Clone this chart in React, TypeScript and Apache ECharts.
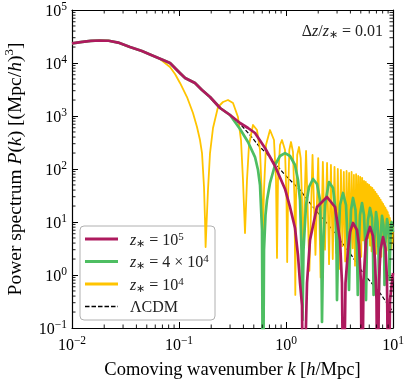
import React, { useEffect, useRef } from "react";
import * as echarts from "echarts";

// ---------- data (k in h/Mpc, P in (Mpc/h)^3) ----------
const commonK = [0.01, 0.0125, 0.015, 0.018, 0.022, 0.027, 0.0348, 0.045, 0.0536, 0.0709, 0.0824, 0.102, 0.114, 0.141, 0.164, 0.195, 0.242, 0.3];
const commonP = [23500, 25000, 26100, 26600, 26300, 24300, 20000, 16800, 14500, 11400, 10000, 6480, 5210, 4200, 3100, 2280, 1415, 1045];

const magentaK = [0.3717, 0.4415, 0.5133, 0.6363, 0.7893, 0.9787, 1.09, 1.214, 1.294, 1.352, 1.411, 1.45,
  1.572, 1.676, 1.949, 2.416, 2.87, 3.197, 3.336, 3.447,
  3.598, 3.797, 3.965, 4.229, 4.609, 4.811, 5.02, 5.132,
  5.301, 5.594, 6.095, 6.503, 6.789, 7.013, 7.164,
  7.4, 7.643, 8.064, 8.509, 8.788, 9.077, 9.376, 10];
const magentaP = [738, 594, 478, 249, 114, 42, 19.2, 7.7, 2.38, 0.707, 0.27, 0.001,
  0.707, 4.57, 19.2, 29.6, 19.2, 4.57, 0.707, 0.001,
  0.707, 2.96, 6.48, 9.58, 7.06, 3.68, 0.707, 0.001,
  0.805, 4.57, 8.05, 5.44, 1.92, 0.337, 0.001,
  0.805, 2.96, 5.21, 3.23, 0.805, 0.001, 0.337, 1.09];

const greenK = [0.3338, 0.3717, 0.4415, 0.5133, 0.5475, 0.5715, 0.5968, 0.6095, 0.6228, 0.6432, 0.6644, 0.7087, 0.7893, 0.8788, 0.9787, 1.09, 1.214, 1.294, 1.352, 1.396, 1.427,
  1.457, 1.538, 1.641, 1.788, 1.949, 2.078, 2.138, 2.17,
  2.218, 2.314, 2.523, 2.75, 2.901, 2.965, 2.997,
  3.062, 3.197, 3.41, 3.637, 3.797, 3.88,
  3.965, 4.051, 4.229, 4.462, 4.609, 4.688,
  4.811, 4.916, 5.132, 5.358, 5.534, 5.594,
  5.715, 5.84, 6.095, 6.363, 6.503, 6.587,
  6.716, 6.937, 7.164, 7.32, 7.4,
  7.56, 7.893, 8.151, 8.276, 8.329,
  8.509, 8.788, 9.077, 9.216, 9.275,
  9.436, 9.683, 10];
const greenP = [771, 569, 323, 168, 95.7, 49.9, 7.06, 0.001, 2.96, 13.5, 26, 54.4, 119, 176, 200, 176, 119, 62, 26, 2.96, 0.142,
  2.96, 20.9, 45.7, 64.8, 52.1, 26, 2.96, 0.13,
  2.96, 20.9, 56.8, 43.8, 16.8, 2.96, 0.337,
  2.96, 20.9, 35.3, 20.9, 2.96, 0.521,
  4.57, 16.8, 28.4, 16.8, 2.96, 0.419,
  4.57, 13.5, 22.8, 13.5, 2.96, 0.337,
  4.57, 10.9, 18.4, 11.9, 2.96, 0.419,
  4.57, 15.4, 10, 2.96, 0.521,
  3.68, 13, 8.77, 2.96, 0.647,
  4.57, 11.4, 7.7, 2.96, 0.805,
  4.57, 10, 6.48];

const yellowK = [0.0664, 0.0824, 0.0918, 0.1022, 0.1188, 0.1351, 0.1473, 0.1571, 0.1641, 0.1713, 0.175, 0.1773, 0.1807, 0.1866, 0.1949, 0.2079, 0.2315, 0.2577, 0.287, 0.3197, 0.3558, 0.3797, 0.3963, 0.4139,
  0.432, 0.451, 0.4915, 0.5358, 0.5715, 0.5968, 0.603, 0.6228, 0.6502, 0.7087, 0.7724, 0.8065, 0.824,
  0.8418, 0.8788, 0.9175, 0.9787, 1.011, 1.026, 1.044, 1.074, 1.114, 1.162, 1.2007, 1.222,
  1.24, 1.273, 1.323, 1.372, 1.411, 1.433,
  1.54, 1.655, 1.77, 1.885, 2.0, 2.105, 2.21, 2.315, 2.42, 2.525, 2.63, 2.735, 2.84, 2.945, 3.05, 3.155,
  3.26, 3.365, 3.47, 3.575, 3.68, 3.785, 3.89, 3.995, 4.1, 4.205, 4.31, 4.415, 4.52, 4.625, 4.73, 4.835,
  4.94, 5.045, 5.15, 5.255, 5.36, 5.465, 5.57, 5.675, 5.78, 5.885, 5.99, 6.095, 6.2, 6.305, 6.41, 6.515,
  6.62, 6.725, 6.83, 6.935, 7.04, 7.145, 7.25, 7.355, 7.46, 7.565, 7.67, 7.775, 7.88, 7.985, 8.09, 8.195,
  8.3, 8.405, 8.51, 8.615, 8.72, 8.825, 8.93, 9.035, 9.14, 9.245, 9.35, 9.455, 9.56, 9.665, 9.77, 9.875, 9.98];
const yellowP = [11900, 8410, 6200, 4200, 2280, 1140, 620, 352, 200, 45.7, 10.9, 3.37, 8.77, 40.2, 200, 594, 1479, 1837, 2005, 1760, 957, 352, 62, 6.2,
  62, 284, 677, 544, 228, 26, 2.38, 40.2, 284, 544, 352, 62, 2.1,
  62, 284, 352, 228, 26, 1.76, 26, 228, 323, 209, 26, 0.42,
  26, 184, 260, 161, 26, 1.92,
  219, 1.2, 184, 2.4, 161, 0.9, 136, 3.0, 130, 1.6, 119, 2.0, 109, 2.6, 100, 1.3,
  95.7, 3.5, 87.7, 1.8, 91.6, 4.2, 84, 2.5, 87.7, 3.2, 77, 1.5, 80, 4.0, 73.8, 3.0,
  70.6, 2.2, 67.6, 4.5, 59.4, 3.4, 56.8, 2.0, 52.1, 5.0, 49.9, 3.6, 45.7, 2.8, 43.8, 4.4,
  40.2, 3.9, 36.8, 2.5, 33.8, 5.2, 31.0, 3.8, 28.4, 4.6, 26.0, 2.2, 23.8, 4.8, 21.9, 5.5,
  20.0, 3.3, 18.4, 4.2, 16.8, 5.0, 15.4, 2.9, 13.5, 4.4, 11.9, 3.6, 10.4, 3.1, 9.2, 4.0, 8.05];

const lcdmK = [0.3717, 0.4609, 0.5475, 0.7087, 0.9787, 1.352, 1.788, 2.578, 3.965, 5.243, 7.56, 10];
const lcdmP = [706, 438, 284, 168, 77, 40.2, 19.2, 8.05, 2.6, 1.09, 0.457, 0.2];

// legend order (top to bottom)
const legendNames = ["z5", "z4x4", "z4", "LCDM"];
const legendLabels: Record<string, string> = {
  z5: "{i|z}{sub|\u2217}{t| = 10}{sup|5}",
  z4x4: "{i|z}{sub|\u2217}{t| = 4 \u00d7 10}{sup|4}",
  z4: "{i|z}{sub|\u2217}{t| = 10}{sup|4}",
  LCDM: "{t|\u039BCDM}",
};
const colors: Record<string, string> = { z5: "#AE1A5E", z4x4: "#4EBE62", z4: "#FFC400", LCDM: "#000000" };
const widths: Record<string, number> = { z5: 2.7, z4x4: 2.7, z4: 1.8, LCDM: 1.2 };

const xMinor = [0.02, 0.03, 0.04, 0.05, 0.06, 0.07, 0.08, 0.09, 0.2, 0.3, 0.4, 0.5, 0.6, 0.7, 0.8, 0.9, 2, 3, 4, 5, 6, 7, 8, 9];
const yMinor = [0.2, 0.3, 0.4, 0.5, 0.6, 0.7, 0.8, 0.9, 2, 3, 4, 5, 6, 7, 8, 9, 20, 30, 40, 50, 60, 70, 80, 90,
  200, 300, 400, 500, 600, 700, 800, 900, 2000, 3000, 4000, 5000, 6000, 7000, 8000, 9000,
  20000, 30000, 40000, 50000, 60000, 70000, 80000, 90000];

const FONT = "'Liberation Serif', 'Times New Roman', serif";

function pairs(k: number[], p: number[]) {
  return k.map((v, i) => [v, p[i]]);
}

function supLabel(v: number) {
  const e = Math.round(Math.log10(v));
  return `{b|10}{e|${e < 0 ? "\u2212" + -e : e}}`;
}

const tickRich = {
  b: { fontFamily: FONT, fontSize: 16, lineHeight: 20, color: "#000" },
  e: { fontFamily: FONT, fontSize: 11.5, lineHeight: 11, verticalAlign: "top", color: "#000" },
};

const legendRich = {
  t: { fontFamily: FONT, fontSize: 16, lineHeight: 18, fill: "#222" },
  i: { fontFamily: FONT, fontSize: 16, lineHeight: 18, fontStyle: "italic", fill: "#222" },
  sub: { fontFamily: FONT, fontSize: 11, lineHeight: 10, verticalAlign: "bottom", fill: "#222" },
  sup: { fontFamily: FONT, fontSize: 11, lineHeight: 10, verticalAlign: "top", fill: "#222" },
  g: { fontFamily: FONT, fontSize: 16, lineHeight: 18, fill: "#222" },
};

function tickSeries(vals: number[], axis: "x" | "y") {
  return {
    type: "custom",
    silent: true,
    clip: false,
    z: 10,
    data: vals.map((v) => (axis === "x" ? [v, 1] : [1, v])),
    renderItem: (params: any, api: any) => {
      const cs = params.coordSys;
      const pt = api.coord([api.value(0), api.value(1)]);
      const L = 3.5;
      const st = { stroke: "#000", lineWidth: 0.9 };
      if (axis === "x") {
        const x = pt[0];
        return {
          type: "group",
          children: [
            { type: "line", shape: { x1: x, y1: cs.y + cs.height, x2: x, y2: cs.y + cs.height - L }, style: st },
            { type: "line", shape: { x1: x, y1: cs.y, x2: x, y2: cs.y + L }, style: st },
          ],
        };
      }
      const y = pt[1];
      return {
        type: "group",
        children: [
          { type: "line", shape: { x1: cs.x, y1: y, x2: cs.x + L, y2: y }, style: st },
          { type: "line", shape: { x1: cs.x + cs.width, y1: y, x2: cs.x + cs.width - L, y2: y }, style: st },
        ],
      };
    },
  };
}

function legendGraphic() {
  const left = 80, top = 226, w = 135, h = 94;
  const rowY = [239, 261.5, 284, 306.5];
  const children: any[] = [
    {
      type: "rect",
      shape: { x: left, y: top, width: w, height: h, r: 4 },
      style: { fill: "rgba(255,255,255,0.8)", stroke: "#b0b0b0", lineWidth: 1 },
    },
  ];
  legendNames.forEach((n, i) => {
    children.push({
      type: "line",
      shape: { x1: 85, y1: rowY[i], x2: 118, y2: rowY[i] },
      style: {
        stroke: colors[n],
        lineWidth: n === "LCDM" ? 1.3 : 3,
        lineDash: n === "LCDM" ? [4.5, 2] : null,
      },
    });
    children.push({
      type: "text",
      x: 130,
      y: rowY[i],
      style: { text: legendLabels[n], rich: legendRich, verticalAlign: "middle", align: "left" },
    });
  });
  return { type: "group", z: 100, children };
}

export default function App() {
  const ref = useRef<HTMLDivElement>(null);
  useEffect(() => {
    const chart = echarts.init(ref.current!, undefined, { renderer: "svg" });
    const lineCommon = { type: "line", showSymbol: false, symbol: "none", clip: true, silent: true };
    const axisLine = { show: true, onZero: false, lineStyle: { color: "#000", width: 1.2 } };
    const axisTick = { show: true, inside: true, length: 6, lineStyle: { color: "#000", width: 1 } };
    const titleRichX = {
      t: { fontFamily: FONT, fontSize: 18.5, lineHeight: 24, color: "#000" },
      i: { fontFamily: FONT, fontSize: 18.5, lineHeight: 24, fontStyle: "italic", color: "#000" },
    };
    const titleRichY = {
      t: { fontFamily: FONT, fontSize: 19.5, lineHeight: 24, color: "#000" },
      i: { fontFamily: FONT, fontSize: 19.5, lineHeight: 24, fontStyle: "italic", color: "#000" },
      s: { fontFamily: FONT, fontSize: 13, lineHeight: 14, verticalAlign: "top", color: "#000" },
    };
    const option: any = {
      animation: false,
      grid: { left: 72, top: 10, width: 321, height: 318, outerBoundsMode: "none", containLabel: false },
      xAxis: [
        {
          type: "log", logBase: 10, min: 0.01, max: 10, splitNumber: 3, position: "bottom",
          axisLine, axisTick, splitLine: { show: false },
          axisLabel: { formatter: supLabel, rich: tickRich, margin: 6 },
          name: "{t|Comoving wavenumber }{i|k}{t| [}{i|h}{t|/Mpc]}",
          nameLocation: "middle", nameGap: 29,
          nameTextStyle: { rich: titleRichX },
        },
        {
          type: "log", logBase: 10, min: 0.01, max: 10, splitNumber: 3, position: "top",
          axisLine, axisTick, splitLine: { show: false }, axisLabel: { show: false },
        },
      ],
      yAxis: [
        {
          type: "log", logBase: 10, min: 0.1, max: 100000, splitNumber: 6, position: "left",
          axisLine, axisTick, splitLine: { show: false },
          axisLabel: { formatter: supLabel, rich: tickRich, margin: 5 },
          name: "{t|Power spectrum }{i|P}{t|(}{i|k}{t|) [(Mpc/}{i|h}{t|)}{s|3}{t|]}",
          nameLocation: "middle", nameGap: 46,
          nameTextStyle: { rich: titleRichY },
        },
        {
          type: "log", logBase: 10, min: 0.1, max: 100000, splitNumber: 6, position: "right",
          axisLine, axisTick, splitLine: { show: false }, axisLabel: { show: false },
        },
      ],
      graphic: [
        {
          type: "text",
          right: 26,
          top: 22,
          z: 100,
          style: {
            text: "{g|\u0394}{i|z}{t|/}{i|z}{sub|\u2217}{t| = 0.01}",
            rich: legendRich,
          },
        },
        legendGraphic(),
      ],
      series: [
        {
          ...lineCommon, name: "LCDM", z: 2,
          data: pairs(commonK, commonP).concat(pairs(lcdmK, lcdmP)),
          lineStyle: { color: colors.LCDM, width: widths.LCDM, type: [4, 2] },
        },
        {
          ...lineCommon, name: "z4", z: 3,
          data: pairs(commonK.slice(0, 9), commonP.slice(0, 9)).concat(pairs(yellowK, yellowP)),
          lineStyle: { color: colors.z4, width: widths.z4, join: "round" },
        },
        {
          ...lineCommon, name: "z4x4", z: 4,
          data: pairs(commonK, commonP).concat(pairs(greenK, greenP)),
          lineStyle: { color: colors.z4x4, width: widths.z4x4, join: "round" },
        },
        {
          ...lineCommon, name: "z5", z: 5,
          data: pairs(commonK, commonP).concat(pairs(magentaK, magentaP)),
          lineStyle: { color: colors.z5, width: widths.z5, join: "round" },
        },
        tickSeries(xMinor, "x"),
        tickSeries(yMinor, "y"),
      ],
    };
    chart.setOption(option);
    return () => chart.dispose();
  }, []);
  return <div ref={ref} style={{ position: "fixed", left: 0, top: 0, width: 409, height: 384 }} />;
}
